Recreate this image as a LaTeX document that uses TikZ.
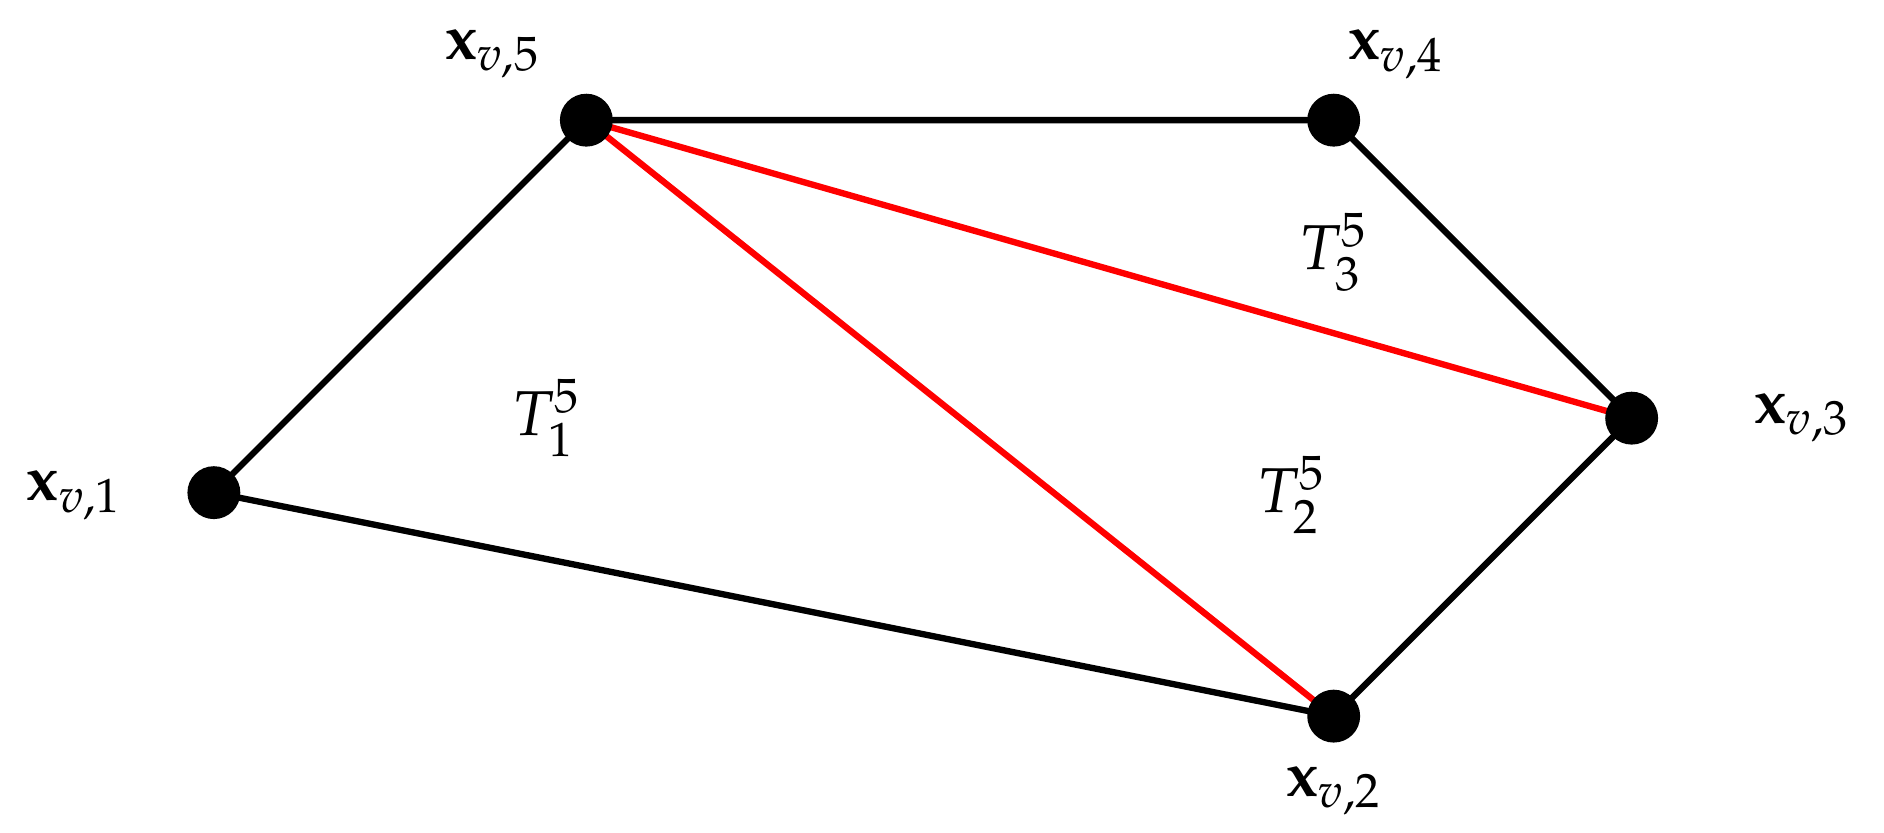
\documentclass[tikz,border=0pt]{standalone}
\usepackage{mathpazo}
\usepackage{bm}
\begin{document}
\begin{tikzpicture}[x=0.01cm,y=-0.01cm,
  dot/.style={circle,fill=black,inner sep=0pt,minimum size=0.44cm},
  edge/.style={line width=1.5pt},
  redge/.style={line width=1.5pt,red},
  lab/.style={font=\fontsize{15}{18}\selectfont}]
\useasboundingbox (0,0) rectangle (1568,693);
\coordinate (p1) at (178,410);
\coordinate (p2) at (1110,596);
\coordinate (p3) at (1358,348);
\coordinate (p4) at (1110,100);
\coordinate (p5) at (488,100);
\draw[edge] (p5)--(p4)--(p3)--(p2)--(p1)--cycle;
\draw[redge] (p5)--(p3);
\draw[redge] (p5)--(p2);
\foreach \i in {1,...,5} \node[dot] (n\i) at (p\i) {};
\node[lab] (l1) at (62,412) {$\mathbf{x}_{v,1}$};
\node[lab] (l2) at (1110,658) {$\mathbf{x}_{v,2}$};
\node[lab] (l3) at (1500,348) {$\mathbf{x}_{v,3}$};
\node[lab] (l4) at (1162,45) {$\mathbf{x}_{v,4}$};
\node[lab] (l5) at (410,45) {$\mathbf{x}_{v,5}$};
\node[lab] (t1) at (455,348) {$T_1^5$};
\node[lab] (t2) at (1075,412) {$T_2^5$};
\node[lab] (t3) at (1110,210) {$T_3^5$};
\end{tikzpicture}
\end{document}
